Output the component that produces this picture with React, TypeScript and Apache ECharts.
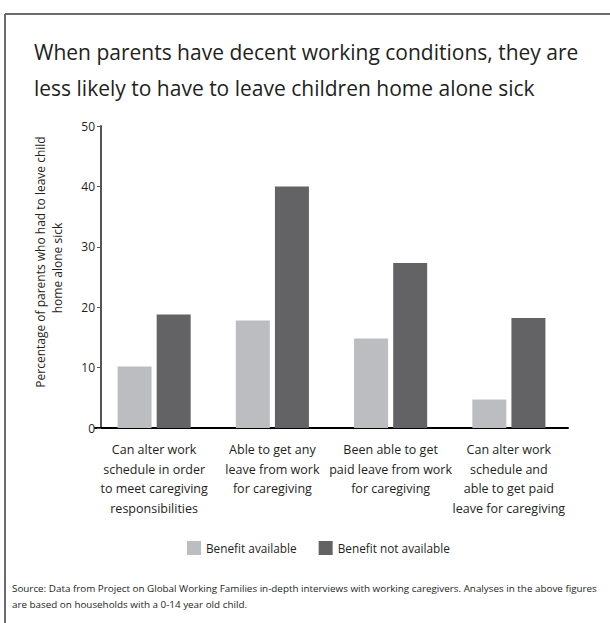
import React, { useEffect, useRef } from "react";
import * as echarts from "echarts";

const categories = [
  "Can alter work\nschedule in order\nto meet caregiving\nresponsibilities",
  "Able to get any\nleave from work\nfor caregiving",
  "Been able to get\npaid leave from work\nfor caregiving",
  "Can alter work\nschedule and\nable to get paid\nleave for caregiving",
];
const benefitAvailable = [10.2, 17.8, 14.8, 4.7];
const benefitNotAvailable = [18.8, 40.0, 27.3, 18.2];
const seriesNames = ["Benefit available", "Benefit not available"];
const titleLines = [
  "When parents have decent working conditions, they are",
  "less likely to have to leave children home alone sick",
];
const yAxisNameLines = ["Percentage of parents who had to leave child", "home alone sick"];
const sourceText =
  "Source: Data from Project on Global Working Families in-depth interviews with working caregivers. Analyses in the above figures\nare based on households with a 0-14 year old child.";

const FONT = "'Open Sans', 'Noto Sans', sans-serif";

export default function App() {
  const ref = useRef<HTMLDivElement>(null);
  useEffect(() => {
    if (!ref.current) return;
    const chart = echarts.init(ref.current, undefined, { renderer: "svg" });
    chart.setOption({
      animation: false,
      backgroundColor: "#ffffff",
      textStyle: { fontFamily: FONT },
      graphic: [
        { type: "line", shape: { x1: 5, y1: 14, x2: 610, y2: 14 }, style: { stroke: "#6b6b6b", lineWidth: 2 } },
        { type: "line", shape: { x1: 5, y1: 14, x2: 5, y2: 623 }, style: { stroke: "#6b6b6b", lineWidth: 2 } },
        {
          type: "text",
          left: 34,
          top: 34,
          style: {
            text: titleLines.join("\n"),
            fontSize: 21,
            lineHeight: 36,
            fill: "#231f20",
            fontFamily: FONT,
          },
        },
        ...yAxisNameLines.map((line, i) => ({
          type: "text",
          x: 40 + i * 17,
          y: 262 + i * 6,
          rotation: Math.PI / 2,
          style: {
            text: line,
            fontSize: 12,
            fill: "#231f20",
            align: "center",
            verticalAlign: "middle",
            fontFamily: FONT,
          },
        })),
        {
          type: "text",
          left: 12,
          top: 580,
          style: {
            text: sourceText,
            fontSize: 9.85,
            lineHeight: 16,
            fill: "#231f20",
            fontFamily: FONT,
          },
        },
      ],
      legend: {
        bottom: 63,
        left: 182,
        itemWidth: 14,
        itemHeight: 14,
        itemGap: 22,
        icon: "rect",
        textStyle: { fontSize: 11.8, color: "#231f20", fontFamily: FONT },
        data: seriesNames,
      },
      grid: { left: 95, right: 42, top: 126, bottom: 195, containLabel: false },
      xAxis: {
        type: "category",
        data: categories,
        axisLine: { lineStyle: { color: "#000", width: 2 } },
        axisTick: { show: false },
        axisLabel: {
          interval: 0,
          fontSize: 12.5,
          lineHeight: 19.5,
          color: "#231f20",
          margin: 12,
          fontFamily: FONT,
        },
      },
      yAxis: {
        type: "value",
        min: 0,
        max: 50,
        interval: 10,
        offset: -6,
        axisLine: { show: true, lineStyle: { color: "#555", width: 2 } },
        axisTick: { show: true, length: 4, lineStyle: { color: "#555" } },
        axisLabel: { fontSize: 12, color: "#231f20", margin: 6, fontFamily: FONT },
        splitLine: { show: false },
      },
      series: [
        {
          name: seriesNames[0],
          type: "bar",
          data: benefitAvailable,
          barWidth: 34,
          barGap: "15%",
          itemStyle: { color: "#bcbdc0" },
        },
        {
          name: seriesNames[1],
          type: "bar",
          data: benefitNotAvailable,
          barWidth: 34,
          barGap: "15%",
          itemStyle: { color: "#636365" },
        },
      ],
    });
    return () => chart.dispose();
  }, []);
  return <div ref={ref} style={{ width: 610, height: 623, position: "absolute", left: 0, top: 0 }} />;
}
